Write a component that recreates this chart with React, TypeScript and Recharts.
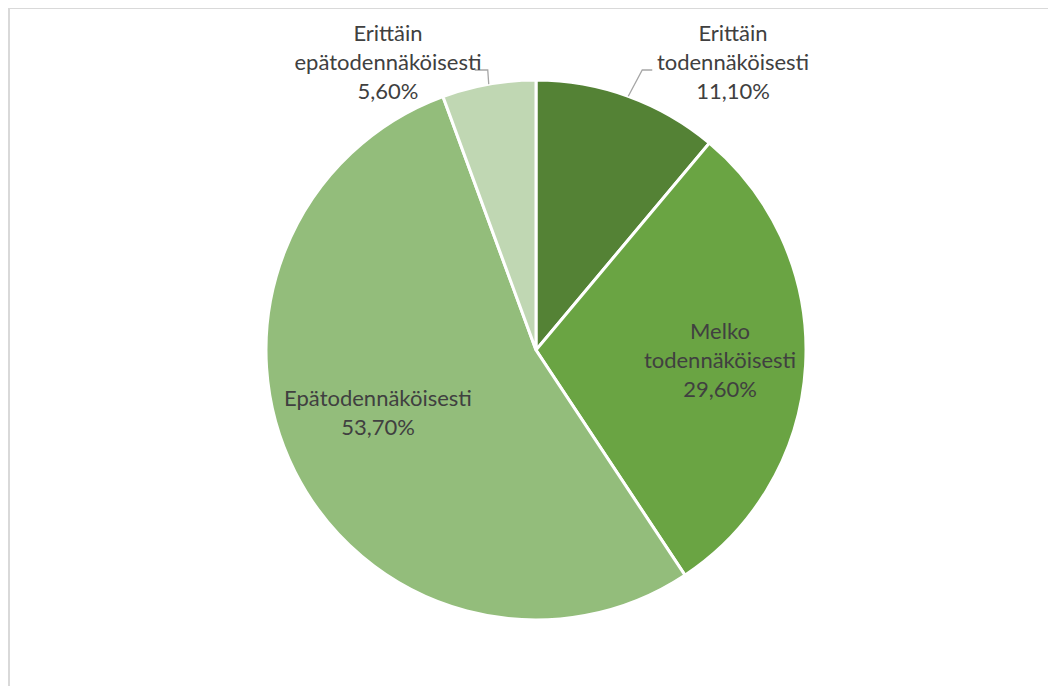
import { PieChart, Pie, Cell } from "recharts";

const categories = [
  "Erittäin todennäköisesti",
  "Melko todennäköisesti",
  "Epätodennäköisesti",
  "Erittäin epätodennäköisesti",
];
const shares = [11.1, 29.6, 53.7, 5.6];
const labelLines = [
  ["Erittäin", "todennäköisesti", "11,10%"],
  ["Melko", "todennäköisesti", "29,60%"],
  ["Epätodennäköisesti", "53,70%"],
  ["Erittäin", "epätodennäköisesti", "5,60%"],
];

const colors = ["#548235", "#6aa443", "#93bd7b", "#c0d7b3"];

const data = categories.map((name, i) => ({ name, value: shares[i] }));

const RAD = Math.PI / 180;
const LINE_H = 29;

// label placement (offset from pie centre) - Excel style manual positions
const labelPos = [
  { dx: 197, dy: -289, outside: true },
  { dx: 184, dy: 9, outside: false },
  { dx: -158, dy: 61, outside: false },
  { dx: -148, dy: -289, outside: true },
];

const renderLabel = (props: any) => {
  const { cx, cy, midAngle, outerRadius, index } = props;
  const pos = labelPos[index];
  const lines = labelLines[index];
  const x = cx + pos.dx;
  const y = cy + pos.dy;
  const top = y - ((lines.length - 1) * LINE_H) / 2;
  let leader = null;
  if (pos.outside) {
    const ex = cx + outerRadius * Math.cos(-midAngle * RAD);
    const ey = cy + outerRadius * Math.sin(-midAngle * RAD);
    const ky = cy - 280;
    const right = pos.dx > 0;
    const kx = right ? ex + 14 : ex - 1;
    const hx = right ? kx + 10 : kx - 13;
    leader = (
      <polyline
        points={`${ex},${ey} ${kx},${ky} ${hx},${ky}`}
        fill="none"
        stroke="#a6a6a6"
        strokeWidth={1.3}
      />
    );
  }
  return (
    <g key={`lbl-${index}`}>
      {leader}
      <text
        x={x}
        y={top}
        textAnchor="middle"
        dominantBaseline="central"
        fill="#404040"
        fontSize={22}
        fontFamily="Lato, 'Open Sans', sans-serif"
      >
        {lines.map((t, i) => (
          <tspan key={i} x={x} y={top + i * LINE_H} dominantBaseline="central">
            {t}
          </tspan>
        ))}
      </text>
    </g>
  );
};

export default function App() {
  return (
    <div
      style={{
        width: 1048,
        height: 678,
        marginTop: -1,
        borderTop: "2px solid #d9d9d9",
        borderLeft: "2px solid #d9d9d9",
        background: "#fff",
      }}
    >
      <PieChart width={1046} height={676}>
        <Pie
          data={data}
          dataKey="value"
          nameKey="name"
          cx={521}
          cy={336}
          outerRadius={270}
          startAngle={90}
          endAngle={-270}
          stroke="#ffffff"
          strokeWidth={3}
          label={renderLabel}
          labelLine={false}
          isAnimationActive={false}
        >
          {data.map((d, i) => (
            <Cell key={d.name} fill={colors[i]} />
          ))}
        </Pie>
      </PieChart>
    </div>
  );
}
